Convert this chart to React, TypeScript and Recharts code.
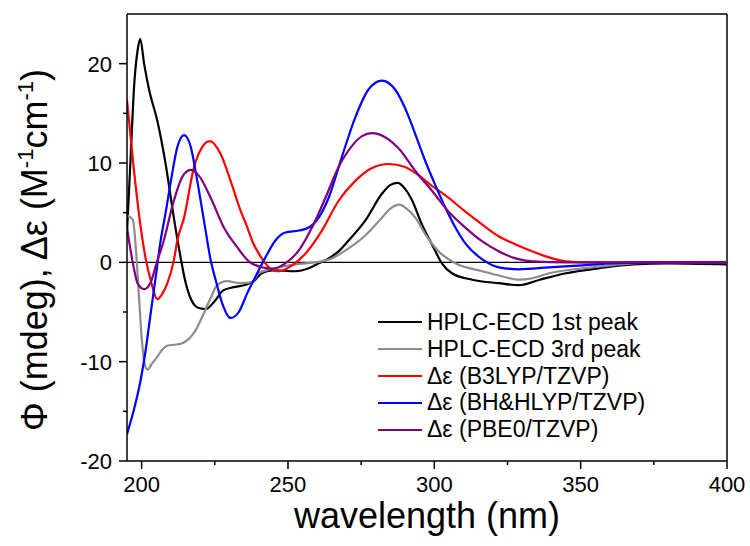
import { Line, LineChart, ReferenceLine, XAxis, YAxis } from "recharts";

// [wavelength nm, value]
const hplc1st: [number, number][] = [
  [195, 3], [196.3, 10.9], [197.4, 17.6], [198.6, 21.3], [199.5, 22.5], [200.9, 19.9],
  [202.6, 17.3], [205.4, 14.2], [208.2, 9.9], [211, 4.5], [213, 1.0], [215, -2.0],
  [217, -3.8], [219.5, -4.6], [222, -4.7], [224.7, -4.0], [228, -2.8], [231.5, -2.5],
  [235, -2.3], [238.3, -1.9], [241, -1.1], [244.6, -0.8], [252.5, -0.9], [257.1, -0.6],
  [260.5, -0.1], [263.9, 0.4], [267.3, 1.1], [270.7, 2.2], [276.4, 4.2], [282.1, 6.9],
  [285, 7.8], [287.5, 8.0], [290, 7.4], [292.3, 6.3], [295.8, 3.8], [299.2, 1.8],
  [302.6, -0.1], [306, -1.1], [313, -1.75], [322, -2.1], [329, -2.3], [336, -1.75],
  [345, -1.1], [356, -0.6], [368, -0.2], [380, -0.1], [400, -0.2],
];

const hplc3rd: [number, number][] = [
  [195, 4.7], [197, 4.3], [198, 1.5], [199, -3], [200, -7.5], [201, -10.2], [202, -10.8],
  [203.5, -10.2], [205.4, -9.5], [207, -8.8], [208.8, -8.4], [211, -8.3], [213.4, -8.2],
  [216.8, -7.5], [218.5, -6.8], [220.2, -5.8], [223.6, -3.6], [225.8, -2.3], [229.2, -1.9],
  [233.8, -2.1], [237.8, -2.0], [240, -1.1], [246.9, -0.5], [256, -0.1], [260.5, 0.05],
  [265, 0.4], [270.7, 1.4], [276.4, 2.7], [282.1, 4.5], [285, 5.4], [288, 5.8],
  [290.5, 5.4], [293.5, 4.5], [297, 2.8], [301.5, 1.1], [307.2, -0.1], [316.4, -0.9],
  [323, -1.4], [329, -1.75], [333.5, -1.6], [339.2, -1.1], [350.7, -0.6], [362, -0.25],
  [375, 0], [400, 0],
];

const b3lyp: [number, number][] = [
  [195, 16.3], [197.4, 9.2], [199.7, 3.5], [201.5, 0.2], [203.1, -1.8], [205.4, -3.7],
  [207, -3.2], [208.8, -2.1], [211, 0.2], [212.2, 2.2], [214.5, 4.5], [217.9, 9.6],
  [220.7, 11.6], [223.3, 12.2], [227, 10.9], [230.4, 8.2], [233.8, 5.2], [236, 3.6],
  [238, 2.0], [240, 0.9], [243.5, -0.5], [246.9, -0.9], [251.4, -0.3], [256, 0.9],
  [261.6, 3.2], [267.3, 6.2], [273, 8.2], [278.7, 9.5], [284.4, 9.9], [290, 9.6],
  [293.5, 9.0], [299.2, 7.7], [304.9, 6.5], [310.6, 5.1], [316.4, 3.8], [322.1, 2.6],
  [327.8, 1.8], [333.5, 1.1], [339.2, 0.5], [345, 0.1], [352, 0], [400, 0],
];

const bhhlyp: [number, number][] = [
  [195, -17.3], [197.4, -14.8], [199.7, -11.8], [201.4, -8.8], [203.1, -5.1], [204.8, -1.5],
  [206.5, 2.2], [208.2, 5.0], [210, 8.2], [212.2, 11.6], [214.5, 12.8], [216.8, 11.6],
  [219, 8.2], [221.3, 4.2], [223.6, 0.2], [225.5, -2.0], [227.5, -4.1], [230.4, -5.6],
  [233.2, -5.0], [236.1, -3.1], [238.3, -1.8], [242.3, 0.5], [245.7, 2.2], [249.1, 3.0],
  [253.7, 3.2], [257.1, 3.5], [260.5, 4.5], [263.9, 6.5], [268.4, 10.6], [273, 14.6],
  [277.5, 17.4], [282.1, 18.3], [286.6, 17.4], [291.2, 14.7], [293.5, 12.9], [296.9, 10.2],
  [300.3, 7.8], [303.8, 5.5], [307.2, 3.5], [310.6, 1.9], [316.4, 0.3], [322.1, -0.5],
  [328.9, -0.7], [339.2, -0.5], [350.7, -0.3], [365, -0.05], [400, 0],
];

const pbe0: [number, number][] = [
  [195, 3.5], [196.4, 0.9], [197.5, -0.8], [198.6, -2.1], [200.9, -2.7], [203.1, -2.0],
  [205.4, 0.2], [207.3, 1.9], [211, 6.2], [213.9, 8.6], [216.8, 9.3], [219.6, 8.7],
  [223.6, 6.5], [228.1, 3.5], [232.7, 1.5], [236.6, 0.1], [241.2, -0.5], [244.6, -0.65],
  [249.1, -0.1], [253.7, 1.2], [258.2, 3.5], [262.8, 6.5], [267.3, 9.6], [271.8, 11.7],
  [275.3, 12.7], [278.7, 13.0], [283.2, 12.6], [288, 11.4], [293.5, 9.2], [299.2, 7.2],
  [304.9, 5.1], [310.6, 3.5], [316.4, 2.1], [322.1, 1.1], [327.8, 0.4], [333.5, 0.1],
  [345, 0], [400, 0],
];

const xTicks = [200, 225, 250, 275, 300, 325, 350, 375, 400];
const yTicks = [-20, -15, -10, -5, 0, 5, 10, 15, 20];

const SERIES = [
  { name: "HPLC-ECD 1st peak", color: "#000000", points: hplc1st },
  { name: "HPLC-ECD 3rd peak", color: "#8c8c8c", points: hplc3rd },
  { name: "\u0394\u03b5 (B3LYP/TZVP)", color: "#ff0000", points: b3lyp },
  { name: "\u0394\u03b5 (BH&HLYP/TZVP)", color: "#0000ff", points: bhhlyp },
  { name: "\u0394\u03b5 (PBE0/TZVP)", color: "#800080", points: pbe0 },
];

const FONT = "'Liberation Sans', Arial, sans-serif";

const toRows = (pts: [number, number][]) => pts.map(([nm, v]) => ({ nm, v }));

function XTick({ x, y, payload }: any) {
  const major = payload.value % 50 === 0;
  return (
    <g>
      <line x1={x} x2={x} y1={y} y2={y + (major ? 8 : 4)} stroke="#000" strokeWidth={1.5} />
      {major ? (
        <text x={x} y={y + 31} textAnchor="middle" fontSize={22} fontFamily={FONT} fill="#000">
          {payload.value}
        </text>
      ) : null}
    </g>
  );
}

function YTick({ x, y, payload }: any) {
  const major = payload.value % 10 === 0;
  return (
    <g>
      <line x1={x} x2={x - (major ? 8 : 4)} y1={y} y2={y} stroke="#000" strokeWidth={1.5} />
      {major ? (
        <text x={x - 15} y={y + 8} textAnchor="end" fontSize={22} fontFamily={FONT} fill="#000">
          {payload.value}
        </text>
      ) : null}
    </g>
  );
}

function YTitle() {
  return (
    <text
      x={47}
      y={250}
      transform="rotate(-90, 47, 250)"
      textAnchor="middle"
      fontSize={36}
      fontFamily={FONT}
      fill="#000"
    >
      {"\u03a6 (mdeg),  \u0394\u03b5 (M"}
      <tspan dy={-14} fontSize={22}>-1</tspan>
      <tspan dy={14}>cm</tspan>
      <tspan dy={-14} fontSize={22}>-1</tspan>
      <tspan dy={14}>)</tspan>
    </text>
  );
}

function XTitle() {
  return (
    <text x={427} y={528} textAnchor="middle" fontSize={36} fontFamily={FONT} fill="#000">
      wavelength (nm)
    </text>
  );
}

export default function App() {
  return (
    <div style={{ position: "absolute", left: 0, top: 0, width: 750, height: 546, background: "#fff" }}>
      <LineChart width={750} height={546} margin={{ top: 14, right: 23, left: 0, bottom: 0 }}>
        <XAxis
          dataKey="nm"
          type="number"
          domain={[195, 400]}
          ticks={xTicks}
          interval={0}
          height={85}
          tickSize={0}
          tickMargin={0}
          tickLine={false}
          axisLine={{ stroke: "#000", strokeWidth: 1.5 }}
          tick={<XTick />}
          label={<XTitle />}
          allowDataOverflow
        />
        <YAxis
          type="number"
          domain={[-20, 25]}
          ticks={yTicks}
          interval={0}
          width={127}
          tickSize={0}
          tickMargin={0}
          tickLine={false}
          axisLine={{ stroke: "#000", strokeWidth: 1.5 }}
          tick={<YTick />}
          label={<YTitle />}
          allowDataOverflow
        />
        <ReferenceLine y={25} stroke="#000" strokeWidth={1.5} />
        <ReferenceLine x={400} stroke="#000" strokeWidth={1.5} />
        <ReferenceLine y={0} stroke="#000" strokeWidth={1.2} />
        {SERIES.map((s) => (
          <Line
            key={s.name}
            data={toRows(s.points)}
            dataKey="v"
            name={s.name}
            type="monotone"
            stroke={s.color}
            strokeWidth={2.2}
            dot={false}
            isAnimationActive={false}
          />
        ))}
      </LineChart>
      <div style={{ position: "absolute", left: 378, top: 309, fontFamily: FONT, fontSize: 23, lineHeight: "26.8px" }}>
        {SERIES.map((s) => (
          <div key={s.name} style={{ display: "flex", alignItems: "center", height: 26.8 }}>
            <span style={{ display: "inline-block", width: 44, height: 2, background: s.color, marginRight: 5 }} />
            <span style={{ color: "#000", whiteSpace: "nowrap" }}>{s.name}</span>
          </div>
        ))}
      </div>
    </div>
  );
}
